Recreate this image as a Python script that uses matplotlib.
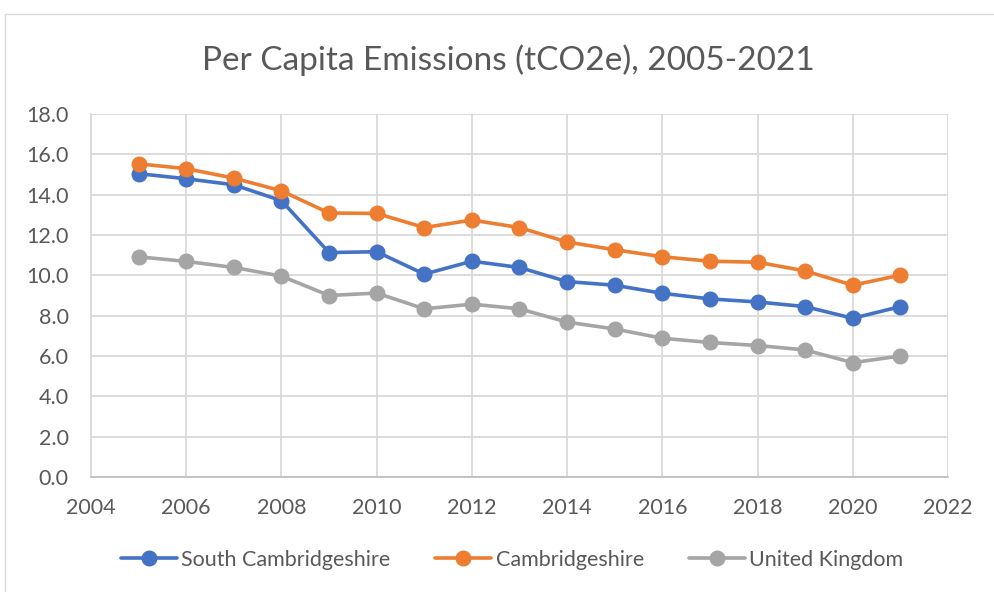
import matplotlib
matplotlib.use("Agg")
import matplotlib.pyplot as plt
from matplotlib.patches import Rectangle

years = [2005, 2006, 2007, 2008, 2009, 2010, 2011, 2012, 2013, 2014, 2015, 2016, 2017, 2018, 2019, 2020, 2021]
south_cambs = [15.04, 14.79, 14.49, 13.70, 11.13, 11.17, 10.06, 10.70, 10.39, 9.69, 9.51, 9.11, 8.83, 8.68, 8.45, 7.87, 8.45]
cambs = [15.53, 15.29, 14.82, 14.19, 13.09, 13.07, 12.37, 12.74, 12.37, 11.65, 11.27, 10.92, 10.70, 10.65, 10.22, 9.51, 10.01]
uk = [10.92, 10.69, 10.39, 9.96, 9.00, 9.12, 8.34, 8.57, 8.34, 7.68, 7.34, 6.88, 6.67, 6.52, 6.30, 5.67, 6.00]
series_names = ["South Cambridgeshire", "Cambridgeshire", "United Kingdom"]
colors = ["#4472C4", "#ED7D31", "#A5A5A5"]
title = "Per Capita Emissions (tCO2e), 2005-2021"

plt.rcParams['font.family'] = ['Lato', 'DejaVu Sans']
txt = "#595959"
grid = "#D9D9D9"

fig = plt.figure(figsize=(9.95, 5.92), dpi=100)
ax = fig.add_axes([91/995, 1-477/592, (948-91)/995, (477-114)/592])

fig.patches.append(Rectangle((5/995, -0.05), 1.0, 1-14/592+0.05, transform=fig.transFigure,
                             fill=False, edgecolor=grid, linewidth=1.0))

for vals, name, c in zip([south_cambs, cambs, uk], series_names, colors):
    ax.plot(years, vals, color=c, lw=2.6, marker='o', markersize=10.5, label=name,
            solid_capstyle='round', zorder=3)

ax.set_xlim(2004, 2022)
ax.set_ylim(0, 18)
ax.set_xticks(range(2004, 2023, 2))
ax.set_yticks([i * 2.0 for i in range(10)])
ax.set_yticklabels([f"{v:.1f}" for v in ax.get_yticks()])
ax.grid(True, color=grid, lw=1.3, zorder=0)
for s in ["top", "right"]:
    ax.spines[s].set_visible(False)
ax.spines["left"].set_color(grid)
ax.spines["left"].set_linewidth(1.3)
ax.spines["bottom"].set_color("#BFBFBF")
ax.spines["bottom"].set_linewidth(1.3)
ax.tick_params(length=0, labelsize=15.5, labelcolor=txt)
ax.tick_params(axis='x', pad=15)
ax.tick_params(axis='y', pad=16)

fig.text(508/995, 1-60/592, title, ha='center', va='center', fontsize=24, color=txt)

leg = fig.legend(loc='center', bbox_to_anchor=(512/995, 1-560/592), ncol=3, frameon=False,
                 fontsize=15.5, labelcolor=txt, handlelength=2.6, handletextpad=0.2, columnspacing=2.1)

fig.savefig("out.png", dpi=100)
